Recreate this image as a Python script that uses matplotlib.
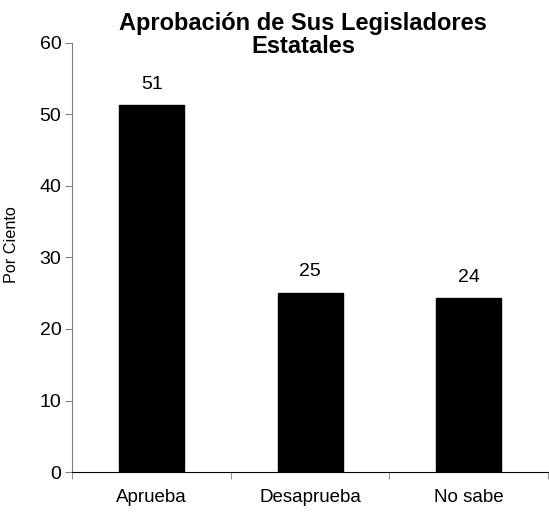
import matplotlib
matplotlib.use("Agg")
import matplotlib.pyplot as plt
import numpy as np

# data
categories = ['Aprueba', 'Desaprueba', 'No sabe']
values = [51.3, 25.1, 24.3]
labels = ['51', '25', '24']

plt.rcParams['font.family'] = ['Liberation Sans', 'DejaVu Sans']

fig = plt.figure(figsize=(5.49, 5.17), dpi=100)
ax = fig.add_axes([0.132, 0.087, 0.866, 0.830])

x = np.arange(len(categories))
bars = ax.bar(x, values, width=0.41, color='black', edgecolor='black')

for b, lab in zip(bars, labels):
    ax.annotate(lab, (b.get_x() + b.get_width() / 2, b.get_height()),
                xytext=(0, 9), textcoords='offset points',
                ha='center', va='bottom', fontsize=14)

ax.set_xlim(-0.5, len(categories) - 0.5)
ax.set_ylim(0, 60)
ax.set_yticks(range(0, 61, 10))
ax.set_xticks(x)
ax.set_xticklabels(categories, fontsize=13.5)
ax.tick_params(axis='x', length=0, pad=12)
ax.set_xticks(np.arange(-0.5, len(categories)), minor=True)
ax.tick_params(axis='x', which='minor', length=5, color='#808080')
ax.tick_params(axis='y', labelsize=14, length=5, color='#808080', pad=3)

ax.spines['top'].set_visible(False)
ax.spines['right'].set_visible(False)
ax.spines['left'].set_color('#808080')
ax.spines['bottom'].set_color('black')

ax.set_ylabel('Por Ciento', fontsize=11.7)
ax.yaxis.set_label_coords(-0.113, 0.531)
fig.text(0.552, 0.976, 'Aprobación de Sus Legisladores\nEstatales',
         ha='center', va='top', fontsize=17, fontweight='bold', linespacing=1.0)

fig.savefig('out.png', dpi=100)
